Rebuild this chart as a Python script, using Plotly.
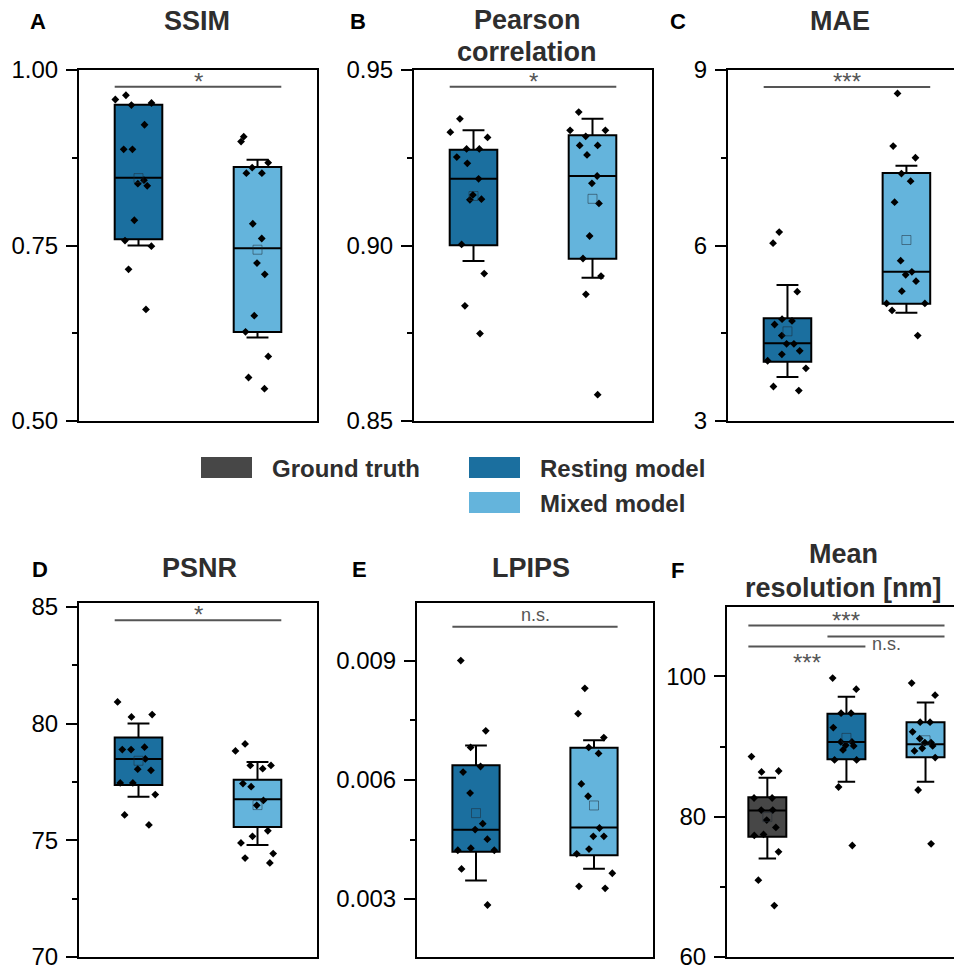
import plotly.graph_objects as go

W, H = 954, 970
FONT = "Liberation Sans, Arial, Helvetica, sans-serif"
GT_C = "#474747"
REST_C = "#1b6f9f"
MIX_C = "#64b4dc"
SIG_C = "#555555"
TXT_C = "#2e2e2e"

# ---------------- data ----------------
groups_2 = ["Resting model", "Mixed model"]
groups_3 = ["Ground truth", "Resting model", "Mixed model"]

# A  SSIM
ssim_rest = [0.964, 0.958, 0.953, 0.950, 0.922, 0.887, 0.887, 0.843, 0.838, 0.835,
             0.786, 0.757, 0.749, 0.716, 0.659]
ssim_mix = [0.905, 0.898, 0.868, 0.861, 0.853, 0.853, 0.781, 0.760, 0.725, 0.709,
            0.650, 0.627, 0.592, 0.562, 0.546]
ssim_q1 = [0.7588, 0.6267]
ssim_med = [0.8466, 0.746]
ssim_q3 = [0.9506, 0.862]
ssim_lo = [0.750, 0.619]
ssim_hi = [0.944, 0.872]
ssim_mean = [0.846, 0.744]
ssim_sig = [0.976]

# B  Pearson correlation
pear_rest = [0.9361, 0.9323, 0.9308, 0.9275, 0.9275, 0.9252, 0.9234, 0.9190, 0.9144,
             0.9132, 0.9130, 0.9003, 0.8920, 0.8828, 0.8749]
pear_mix = [0.9380, 0.9328, 0.9328, 0.9311, 0.9285, 0.9285, 0.9258, 0.9198, 0.9177,
            0.9120, 0.9027, 0.8963, 0.8913, 0.8861, 0.8575]
pear_q1 = [0.9001, 0.8962]
pear_med = [0.9190, 0.9198]
pear_q3 = [0.9273, 0.9314]
pear_lo = [0.8956, 0.8908]
pear_hi = [0.9328, 0.9361]
pear_mean = [0.9141, 0.9133]
pear_sig = [0.9452]

# C  MAE
mae_rest = [6.23, 6.04, 5.21, 4.74, 4.71, 4.65, 4.46, 4.32, 4.32, 4.20, 4.14, 4.03,
            3.90, 3.59, 3.52]
mae_mix = [8.60, 7.70, 7.50, 7.23, 7.10, 6.74, 5.74, 5.55, 5.50, 5.39, 5.22, 5.01,
           5.01, 4.89, 4.46]
mae_q1 = [4.014, 5.006]
mae_med = [4.328, 5.553]
mae_q3 = [4.755, 7.239]
mae_lo = [3.752, 4.852]
mae_hi = [5.325, 7.365]
mae_mean = [4.533, 6.094]
mae_sig = [8.71]

# D  PSNR
psnr_rest = [80.93, 80.39, 80.29, 78.99, 78.89, 78.89, 78.49, 78.05, 78.00, 77.46,
             77.46, 76.96, 76.09, 75.66]
psnr_mix = [79.13, 78.83, 78.21, 78.21, 78.07, 77.43, 77.30, 76.71, 76.50, 75.41,
            75.17, 74.89, 74.43, 74.24, 74.03]
psnr_q1 = [77.37, 75.57]
psnr_med = [78.49, 76.76]
psnr_q3 = [79.41, 77.60]
psnr_lo = [76.87, 74.80]
psnr_hi = [80.01, 78.36]
psnr_mean = [78.41, 76.51]
psnr_sig = [84.43]

# E  LPIPS
lpips_rest = [0.00901, 0.00724, 0.00682, 0.00634, 0.00620, 0.00567, 0.00490, 0.00475,
              0.00451, 0.00428, 0.00423, 0.00423, 0.00376, 0.00285]
lpips_mix = [0.00831, 0.00767, 0.00707, 0.00682, 0.00667, 0.00590, 0.00559, 0.00479,
             0.00458, 0.00458, 0.00426, 0.00414, 0.00365, 0.00332, 0.00327]
lpips_q1 = [0.004191, 0.004107]
lpips_med = [0.004745, 0.004804]
lpips_q3 = [0.006373, 0.006810]
lpips_lo = [0.003470, 0.003763]
lpips_hi = [0.006868, 0.007003]
lpips_mean = [0.005165, 0.005358]
lpips_sig = [0.00986]

# F  Mean resolution [nm]
res_gt = [88.57, 86.52, 86.38, 82.67, 82.67, 80.95, 80.95, 79.52, 78.48, 77.48, 77.33,
          75.00, 70.95, 67.33]
res_rest = [99.76, 98.19, 94.76, 94.76, 92.71, 90.67, 90.67, 90.19, 90.10, 89.52,
            88.10, 88.10, 84.24, 75.90]
res_mix = [99.05, 97.33, 93.48, 93.48, 92.10, 91.14, 90.57, 90.57, 90.10, 89.76,
           89.38, 88.43, 83.81, 76.14]
res_q1 = [77.14, 88.19, 88.48]
res_med = [80.90, 90.67, 90.33]
res_q3 = [82.76, 94.67, 93.48]
res_lo = [74.05, 85.0, 85.0]
res_hi = [85.57, 97.10, 96.29]
res_mean = [79.95, 91.24, 90.90]
res_sig = [107.26, 105.69, 104.27]

# ---------------- layout helpers ----------------
def fx(p):
    return p / W


def fy(p):
    return 1 - p / H


panels = [
    dict(letter="A", title=["SSIM"], lxy=(38, 21), tx=197, ty=[21],
         xdom=(79, 317), ydom=(70, 421), xr=(0.5, 2.5), yr=(0.5, 1.0),
         tick0=0.5, dtick=0.25, minor=0.125, fmt=".2f", closed=True,
         data=[ssim_rest, ssim_mix], colors=[REST_C, MIX_C], bw=0.4,
         stats=[ssim_q1, ssim_med, ssim_q3, ssim_lo, ssim_hi, ssim_mean],
         sig=[(0, 1, ssim_sig[0], "*", None, "above")]),
    dict(letter="B", title=["Pearson", "correlation"], lxy=(358, 21), tx=527,
         ty=[20, 52],
         xdom=(414, 652), ydom=(70, 421), xr=(0.5, 2.5), yr=(0.85, 0.95),
         tick0=0.85, dtick=0.05, minor=0.025, fmt=".2f", closed=True,
         data=[pear_rest, pear_mix], colors=[REST_C, MIX_C], bw=0.4,
         stats=[pear_q1, pear_med, pear_q3, pear_lo, pear_hi, pear_mean],
         sig=[(0, 1, pear_sig[0], "*", None, "above")]),
    dict(letter="C", title=["MAE"], lxy=(678, 21), tx=840, ty=[21],
         xdom=(728, 954), ydom=(70, 421), xr=(0.5, 2.4), yr=(3, 9),
         tick0=3, dtick=3, minor=1.5, fmt="", closed=False,
         data=[mae_rest, mae_mix], colors=[REST_C, MIX_C], bw=0.4,
         stats=[mae_q1, mae_med, mae_q3, mae_lo, mae_hi, mae_mean],
         sig=[(0, 1, mae_sig[0], "***", None, "above")]),
    dict(letter="D", title=["PSNR"], lxy=(40, 569), tx=199, ty=[568],
         xdom=(79, 317), ydom=(603, 957), xr=(0.5, 2.5), yr=(70, 85.17),
         tick0=70, dtick=5, minor=2.5, fmt="", closed=True,
         data=[psnr_rest, psnr_mix], colors=[REST_C, MIX_C], bw=0.4,
         stats=[psnr_q1, psnr_med, psnr_q3, psnr_lo, psnr_hi, psnr_mean],
         sig=[(0, 1, psnr_sig[0], "*", None, "above")]),
    dict(letter="E", title=["LPIPS"], lxy=(359, 569), tx=531, ty=[568],
         xdom=(417, 653), ydom=(603, 957), xr=(0.5, 2.5), yr=(0.00154, 0.01046),
         tick0=0.003, dtick=0.003, minor=0.0015, fmt=".3f", closed=True,
         data=[lpips_rest, lpips_mix], colors=[REST_C, MIX_C], bw=0.4,
         stats=[lpips_q1, lpips_med, lpips_q3, lpips_lo, lpips_hi, lpips_mean],
         sig=[(0, 1, lpips_sig[0], "n.s.", None, "above")]),
    dict(letter="F", title=["Mean", "resolution [nm]"], lxy=(677, 570), tx=843,
         ty=[554, 588],
         xdom=(727, 954), ydom=(607, 957), xr=(0.49, 3.36), yr=(60, 109.9),
         tick0=60, dtick=20, minor=10, fmt="", closed=False,
         data=[res_gt, res_rest, res_mix], colors=[GT_C, REST_C, MIX_C], bw=0.48,
         stats=[res_q1, res_med, res_q3, res_lo, res_hi, res_mean],
         sig=[(0, 2, res_sig[0], "***", 2.0, "above"),
              (1, 2, res_sig[1], "", None, "above"),
              (0, 1, res_sig[2], "***", 1.5, "below")]),
]

fig = go.Figure()
annotations = []
shapes = []
layout_axes = {}

for k, p in enumerate(panels, start=1):
    sx = "" if k == 1 else str(k)
    xa, ya = "x" + sx, "y" + sx
    q1, med, q3, lo, hi, mn = p["stats"]
    bw = p["bw"]
    positions = list(range(1, len(p["data"]) + 1))
    for i, (vals, col) in enumerate(zip(p["data"], p["colors"])):
        pos = positions[i]
        fig.add_trace(go.Box(
            x=[pos], q1=[q1[i]], median=[med[i]], q3=[q3[i]],
            lowerfence=[lo[i]], upperfence=[hi[i]],
            fillcolor=col, line=dict(color="black", width=2), width=bw,
            whiskerwidth=0.46, boxpoints=False, xaxis=xa, yaxis=ya,
            showlegend=False, hoverinfo="skip"))
        fig.add_trace(go.Box(
            x=[pos] * len(vals), y=vals, boxpoints="all", jitter=1.0, pointpos=0,
            fillcolor="rgba(0,0,0,0)", line=dict(color="rgba(0,0,0,0)", width=0),
            width=bw, whiskerwidth=0,
            marker=dict(symbol="diamond", size=6, color="black",
                        line=dict(width=0)),
            xaxis=xa, yaxis=ya, showlegend=False, hoverinfo="skip"))
        fig.add_trace(go.Scatter(
            x=[pos], y=[mn[i]], mode="markers",
            marker=dict(symbol="square-open", size=9, color="rgba(30,40,50,0.5)",
                        line=dict(width=1)),
            xaxis=xa, yaxis=ya, showlegend=False, hoverinfo="skip"))

    # significance bars
    for (g0, g1, yv, label, tx, where) in p["sig"]:
        x0 = positions[g0] - bw / 2
        x1 = positions[g1] + bw / 2
        shapes.append(dict(type="line", xref=xa, yref=ya, x0=x0, x1=x1, y0=yv, y1=yv,
                           line=dict(color=SIG_C, width=2)))
        if label:
            cx = tx if tx is not None else (x0 + x1) / 2
            star = label.startswith("*")
            annotations.append(dict(
                x=cx, y=yv, xref=xa, yref=ya, text=label, showarrow=False,
                font=dict(family=FONT, size=24 if star else 18, color=SIG_C),
                yanchor="bottom" if where == "above" else "top",
                yshift=(-10 if star else 0) if where == "above" else (-1 if star else 0)))

    # axes
    layout_axes["xaxis" + sx] = dict(
        domain=[fx(p["xdom"][0]), fx(p["xdom"][1])], range=list(p["xr"]),
        anchor=ya, showline=True, linecolor="black", linewidth=2, mirror=True,
        showticklabels=False, ticks="", showgrid=False, zeroline=False,
        fixedrange=True, automargin=False)
    layout_axes["yaxis" + sx] = dict(
        domain=[fy(p["ydom"][1]), fy(p["ydom"][0])], range=list(p["yr"]),
        anchor=xa, showline=True, linecolor="black", linewidth=2,
        mirror=p["closed"], ticks="outside", ticklen=11, tickwidth=2,
        tickcolor="black", tick0=p["tick0"], dtick=p["dtick"],
        tickformat=p["fmt"], ticklabelstandoff=3, automargin=False,
        ticklabeloverflow="allow",
        tickfont=dict(family=FONT, size=24, color="black"),
        minor=dict(ticks="outside", ticklen=5, tickwidth=2, tickcolor="black",
                   tick0=p["tick0"], dtick=p["minor"], showgrid=False),
        showgrid=False, zeroline=False, fixedrange=True)

    # panel letter and title
    annotations.append(dict(
        x=fx(p["lxy"][0]), y=fy(p["lxy"][1]), xref="paper", yref="paper",
        text="<b>%s</b>" % p["letter"], showarrow=False, xanchor="center",
        yanchor="middle", font=dict(family=FONT, size=22, color="black")))
    for line_txt, ly in zip(p["title"], p["ty"]):
        annotations.append(dict(
            x=fx(p["tx"]), y=fy(ly), xref="paper", yref="paper",
            text="<b>%s</b>" % line_txt, showarrow=False, xanchor="center",
            yanchor="middle", font=dict(family=FONT, size=27, color=TXT_C)))

# F: "n.s." label beside the nested bars
annotations.append(dict(
    x=2.30, y=res_sig[2], xref="x6", yref="y6", text="n.s.", showarrow=False,
    xanchor="left", yanchor="middle", yshift=2,
    font=dict(family=FONT, size=18, color=SIG_C)))

# legend (drawn as swatches + text)
legend_items = [
    (GT_C, "Ground truth", 201, 457),
    (REST_C, "Resting model", 469, 457),
    (MIX_C, "Mixed model", 469, 492),
]
for col, name, lx, ly in legend_items:
    shapes.append(dict(type="rect", xref="paper", yref="paper",
                       x0=fx(lx), x1=fx(lx + 51), y0=fy(ly + 21), y1=fy(ly),
                       fillcolor=col, line=dict(width=0)))
    annotations.append(dict(
        x=fx(lx + 69), y=fy(ly + 11), xref="paper", yref="paper",
        text="<b>%s</b>" % name, showarrow=False, xanchor="left", yanchor="middle",
        font=dict(family=FONT, size=24, color=TXT_C)))

fig.update_layout(
    width=W, height=H, autosize=False,
    margin=dict(l=0, r=0, t=0, b=0, pad=0, autoexpand=False),
    paper_bgcolor="white", plot_bgcolor="white",
    boxmode="overlay", showlegend=False,
    font=dict(family=FONT),
    annotations=annotations, shapes=shapes,
    **layout_axes)

fig.write_html("out.html")
